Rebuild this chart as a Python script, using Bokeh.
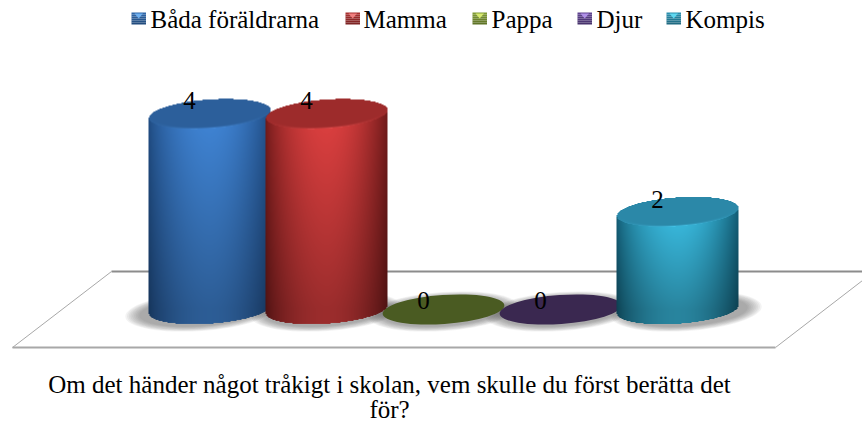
import math
import numpy as np
from bokeh.plotting import figure
from bokeh.models import Range1d, Label
from bokeh.embed import file_html
from bokeh.resources import INLINE

# ---- data ----
categories = ["Båda föräldrarna", "Mamma", "Pappa", "Djur", "Kompis"]
values = [4, 4, 0, 0, 2]
title_lines = ["Om det händer något tråkigt i skolan, vem skulle du först berätta det", "för?"]

# ---- colours ----
centre_cols = ["#4085d6", "#de4040", "#8fae3c", "#6a4a9c", "#3abde2"]
edge_cols = ["#1f4a80", "#6e1a1a", "#4a5b22", "#3a2850", "#125a72"]
top_cols = ["#2c5f9b", "#9d2b2b", "#4a5b22", "#3a2850", "#2b88a8"]
rim_cols = ["#4a90e0", "#ea5050", "#4a5b22", "#3a2850", "#45c5ea"]
swatch_cols = ["#2f66a8", "#a83030", "#7f9a34", "#5f4390", "#2a8fae"]
swatch_lite = ["#6fb0f0", "#f08080", "#d8ea70", "#b090e8", "#60d8f0"]

# ---- layout, in picture pixels ----
W, H = 862, 423
CX0, DX = 209.0, 117.0
Y0, DY = 309.0, 48.7
A, B = 61.0, 14.5
TILT = math.radians(4.0)
FONT = "Liberation Serif"

p = figure(width=W, height=H, output_backend="svg", toolbar_location=None,
           min_border=0, min_border_left=0, min_border_right=0, min_border_top=0, min_border_bottom=0,
           x_range=Range1d(-CX0 / DX, (W - CX0) / DX),
           y_range=Range1d((Y0 - H) / DY, Y0 / DY))
p.axis.visible = False
p.grid.visible = False
p.outline_line_color = None
p.background_fill_color = "white"


def ux(px):
    return (px - CX0) / DX


def uy(py):
    return (Y0 - py) / DY


def rgb(c):
    return np.array([int(c[i:i + 2], 16) for i in (1, 3, 5)], dtype=float)


def mix(c1, c2, t):
    a, b = rgb(c1), rgb(c2)
    return "#%02x%02x%02x" % tuple(int(round(x)) for x in a + (b - a) * t)


def cylinder(i, v, ss=2):
    """RGBA picture of a shaded cylinder of height v, drawn through the data scales."""
    hpx = v * DY
    pad = 2
    nx = int((2 * A + 2 * pad) * ss)
    ny = int((hpx + 2 * B + 2 * pad + 4) * ss)
    xs = (np.arange(nx) + 0.5) / ss - (A + pad)
    ys = (np.arange(ny) + 0.5) / ss - (B + pad + 2)
    X, Y = np.meshgrid(xs, ys)
    ca, sa = math.cos(TILT), math.sin(TILT)

    def radius(dy):
        u = X * ca + dy * sa
        w = -X * sa + dy * ca
        return np.sqrt((u / A) ** 2 + (w / B) ** 2), u, w

    rb, _, _ = radius(Y)
    rt, ut, wt = radius(Y - hpx)
    inb, intop = rb <= 1, rt <= 1
    body = np.zeros_like(inb)
    for c in range(nx):
        lo = np.nonzero(inb[:, c])[0]
        hi = np.nonzero(intop[:, c])[0]
        if len(lo) and len(hi):
            body[lo[0]:hi[-1] + 1, c] = True
    t = np.clip(X / (2 * A) + 0.5, 0, 1)
    s = np.sin(np.pi * t) ** 0.7
    s = np.where(t > 0.5, s ** 1.25, s)
    col = rgb(edge_cols[i])[None, None] + (rgb(centre_cols[i]) - rgb(edge_cols[i]))[None, None] * s[..., None]
    shade = 1 - 0.30 * (1 - np.clip(Y / max(hpx, 1), 0, 1))
    col = col * shade[..., None]
    # top face, with a thin bright rim along its lower edge
    face = np.broadcast_to(rgb(top_cols[i]), col.shape).copy()
    glow = np.clip((rt - 0.82) / 0.18, 0, 1) ** 2 * (wt < 0) * np.clip(-wt / B, 0, 1) * np.clip(1.1 - np.abs(ut) / A, 0, 1)
    face = face + (rgb(rim_cols[i]) - face) * glow[..., None]
    col = np.where(intop[..., None], face, col)
    img = np.zeros((ny, nx), dtype=np.uint32)
    view = img.view(np.uint8).reshape(ny, nx, 4)
    view[..., :3] = np.clip(col, 0, 255).astype(np.uint8)
    view[..., 3] = np.where(body, 255, 0)
    p.image_rgba(image=[img], x=[i - (A + pad) / DX], y=[v * 0 - (B + pad + 2) / DY],
                 dw=[nx / ss / DX], dh=[ny / ss / DY])


# floor
p.line([ux(111), ux(W)], [uy(271), uy(271)], line_color="#8c8c8c", line_width=2)
p.line([ux(111), ux(12)], [uy(271), uy(347)], line_color="#a8a8a8", line_width=1)
p.line([ux(12), ux(775)], [uy(347), uy(347)], line_color="#a8a8a8", line_width=2)
p.line([ux(775), ux(862)], [uy(347), uy(280)], line_color="#a8a8a8", line_width=1)

# soft shadows under the bars
shadow_shift = [-9, 0, 0, 0, 9]
for i, v in enumerate(values):
    for k in range(9):
        grow = 18 - k * 2.2
        p.ellipse([i + shadow_shift[i] / DX], [uy(Y0 + 2)], width=2 * (A + grow * 0.8), height=2 * B + grow * 0.55,
                  angle=TILT, width_units="screen", height_units="screen",
                  fill_color="#505050", fill_alpha=0.07, line_color=None)

# bars
for i, v in enumerate(values):
    if v > 0:
        cylinder(i, v)
    else:
        p.ellipse([i], [v], width=2 * A, height=2 * B, angle=TILT, width_units="screen", height_units="screen",
                  fill_color=top_cols[i], line_color=None)

# data labels
label_dx = [-20, -20, -20, -20, -20]
label_dy = [14, 14, 9, 9, 12.6]
for i, v in enumerate(values):
    p.add_layout(Label(x=i + label_dx[i] / DX, y=v + label_dy[i] / DY, text=str(v), text_font=FONT,
                       text_font_size="25px", text_color="#000000",
                       text_align="center", text_baseline="middle"))

# legend
sw_x = [131, 345, 472, 577, 666]
tx_x = [150, 363, 491, 596, 685]
for i, name in enumerate(categories):
    x0 = sw_x[i]
    n = 6
    for r in range(n):
        p.quad(left=[ux(x0)], right=[ux(x0 + 14.5)], top=[uy(12 + r * 2)], bottom=[uy(14 + r * 2)],
               fill_color=mix(swatch_cols[i], "#000000", r * 0.05), line_color=None)
    p.patch([ux(x0 + 3), ux(x0 + 11.5), ux(x0 + 7.2)], [uy(13), uy(13), uy(18)],
            fill_color=swatch_lite[i], line_color=None)
    p.add_layout(Label(x=ux(tx_x[i]), y=uy(18.5), text=name, text_font=FONT, text_font_size="25px",
                       text_color="#000000", text_align="left", text_baseline="middle"))

# title
p.add_layout(Label(x=ux(389), y=uy(384), text=title_lines[0], text_font=FONT, text_font_size="25px",
                   text_color="#000000", text_align="center", text_baseline="middle"))
p.add_layout(Label(x=ux(389), y=uy(409), text=title_lines[1], text_font=FONT, text_font_size="25px",
                   text_color="#000000", text_align="center", text_baseline="middle"))

open("out.html", "w").write(file_html(p, INLINE))
